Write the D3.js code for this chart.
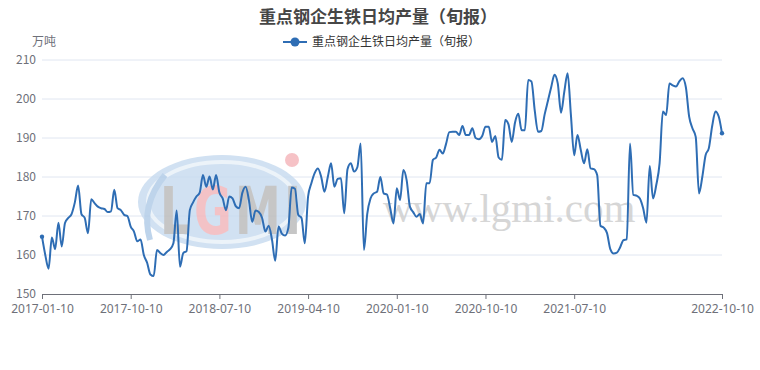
<!DOCTYPE html>
<html>
<head>
<meta charset="utf-8">
<script src="https://cdn.jsdelivr.net/npm/d3@7"></script>
<style>
  body { margin: 0; background: #fff; }
  text { font-family: "Noto Sans CJK SC", "Noto Sans", sans-serif; }
</style>
</head>
<body>
<div id="chart"></div>
<script>
// Chart text
const titleText = "重点钢企生铁日均产量（旬报）";
const unitText = "万吨";

// Tick labels shown on the x axis
const tickLabels = ["2017-01-10", "2017-10-10", "2018-07-10", "2019-04-10",
    "2020-01-10", "2020-10-10", "2021-07-10", "2022-10-10"];
const yTicks = [150, 160, 170, 180, 190, 200, 210];

// Dekad values, 2017-01-10 .. 2022-10-10
const values = [
    164.7, 160, 156.5, 164.5, 161.5, 168.3, 162.2, 168.2, 169.5, 170.5,
    173.5, 177.8, 170.5, 169.5, 165.6, 174.3, 173.3, 172.4, 172, 171.8,
    171, 171.2, 176.7, 172, 171.5, 170.3, 170, 167.3, 166, 163.5,
    164, 160, 158, 155, 154.6, 161.3, 160.5, 160, 160.8, 161.5,
    163, 171.4, 157, 160.5, 161, 171.5, 173.5, 175, 176, 180.5,
    177.5, 180.1, 176.8, 180.5, 176, 174.5, 171.5, 175, 174.5, 172.5,
    172, 176, 177.5, 174, 168.5, 171.4, 171, 169.5, 166, 167.5,
    164, 158.5, 167.3, 165.5, 165, 167, 177.3, 177, 170.3, 169.5,
    163, 175, 178.4, 181, 182.2, 180, 176.2, 180, 183.5, 177.5,
    179.5, 179.7, 170.7, 182, 183.5, 181.4, 182.5, 188.6, 161.3, 170.5,
    174.5, 175.8, 176.2, 180, 175.8, 175.5, 172, 168.1, 177.1, 174.1,
    181.8, 179.2, 172.4, 171, 169.8, 170.5, 168.1, 178.4, 178.4, 184.4,
    185, 187, 186, 188.5, 191.5, 191.6, 191.6, 190.8, 193.1, 190.8,
    190.8, 192.5, 190, 189.7, 190.5, 192.9, 192.9, 189, 190.5, 185,
    184.4, 194.6, 193.5, 189, 194, 196.2, 192, 192, 204.9, 204.5,
    197, 191.6, 191.8, 196, 199.5, 203, 206.2, 204, 196.5, 201.9,
    206.6, 196, 185.6, 190.8, 187, 183.5, 187.1, 182.2, 182, 180.5,
    167.5, 167, 165.6, 161.5, 160.4, 160.6, 162, 163.8, 164, 188.6,
    175.4, 175.2, 174.5, 172, 168.3, 182.8, 174.5, 178, 183.5, 196.8,
    195.9, 204, 203.5, 203.2, 204.5, 205.3, 203, 195.5, 192.5, 190.3,
    175.8, 180, 185.6, 187.4, 193, 196.8, 195.5, 191.2
];

// Dekad dates as categories
const categories = [];
for (let y = 2017; y <= 2022; y++) {
    for (let m = 1; m <= 12; m++) {
        for (const d of [10, 20, 30]) {
            categories.push(`${y}-${String(m).padStart(2, "0")}-${d}`);
        }
    }
}
categories.length = values.length;

const data = categories.map((c, i) => ({ date: c, value: values[i] }));

const width = 760, height = 370;
const margin = { left: 42, right: 38, top: 60, bottom: 76 };
const lineColor = "#2e6db4";

const svg = d3.select("#chart").append("svg")
    .attr("width", width)
    .attr("height", height);

const x = d3.scalePoint()
    .domain(categories)
    .range([margin.left, width - margin.right]);

const y = d3.scaleLinear()
    .domain([150, 210])
    .range([height - margin.bottom, margin.top]);

// Gridlines
svg.append("g")
    .selectAll("line")
    .data(yTicks.slice(1))
    .join("line")
    .attr("x1", margin.left)
    .attr("x2", width - margin.right)
    .attr("y1", d => y(d))
    .attr("y2", d => y(d))
    .attr("stroke", "#e0e6f1")
    .attr("stroke-width", 1);

// Watermark (logo + site)
const wm = svg.append("g").attr("opacity", 0.85);
wm.append("ellipse")
    .attr("cx", 222).attr("cy", 202).attr("rx", 84).attr("ry", 47)
    .attr("fill", "#c9dcf0");
wm.append("ellipse")
    .attr("cx", 222).attr("cy", 202).attr("rx", 74).attr("ry", 40)
    .attr("fill", "none").attr("stroke", "#e9f1f9").attr("stroke-width", 4);
wm.append("path")
    .attr("d", "M150,240 Q140,205 165,175")
    .attr("fill", "none").attr("stroke", "#b3cde8").attr("stroke-width", 6);
const logoLetters = [
    { t: "L", x: 160, c: "#bdbdbd" },
    { t: "G", x: 194, c: "#f2b8bd" },
    { t: "M", x: 235, c: "#bdbdbd" },
    { t: "I", x: 284, c: "#bdbdbd" }
];
wm.selectAll("text.logo")
    .data(logoLetters)
    .join("text")
    .attr("class", "logo")
    .attr("transform", d => `translate(${d.x},234) scale(1,1.45)`)
    .attr("fill", d => d.c)
    .style("font-family", "'DejaVu Sans', sans-serif")
    .style("font-weight", "bold")
    .style("font-size", "46px")
    .text(d => d.t);
wm.append("circle")
    .attr("cx", 292).attr("cy", 160).attr("r", 7)
    .attr("fill", "#f5b8bd");
wm.append("text")
    .attr("x", 383)
    .attr("y", 222)
    .attr("fill", "#cfcfcf")
    .style("font-family", "'Liberation Serif', 'DejaVu Serif', serif")
    .style("font-size", "41px")
    .text("www.lgmi.com");

// Y axis labels
svg.append("g")
    .selectAll("text")
    .data(yTicks)
    .join("text")
    .attr("x", margin.left - 6)
    .attr("y", d => y(d))
    .attr("dy", "0.35em")
    .attr("text-anchor", "end")
    .attr("fill", "#6e7079")
    .style("font-size", "12px")
    .text(d => d);

svg.append("text")
    .attr("x", 44)
    .attr("y", 46)
    .attr("text-anchor", "middle")
    .attr("fill", "#6e7079")
    .style("font-size", "12px")
    .text(unitText);

// X axis
const xAxis = d3.axisBottom(x)
    .tickValues(tickLabels)
    .tickSize(5)
    .tickSizeOuter(0);

const gx = svg.append("g")
    .attr("transform", `translate(0,${height - margin.bottom})`)
    .call(xAxis);
gx.select(".domain").attr("stroke", "#6e7079");
gx.selectAll(".tick line").attr("stroke", "#6e7079");
gx.selectAll(".tick text")
    .attr("fill", "#6e7079")
    .attr("dy", "0.9em")
    .style("font-size", "12px")
    .style("font-family", "'Noto Sans', sans-serif");

// Line
const line = d3.line()
    .x(d => x(d.date))
    .y(d => y(d.value))
    .curve(d3.curveMonotoneX);

svg.append("path")
    .datum(data)
    .attr("fill", "none")
    .attr("stroke", lineColor)
    .attr("stroke-width", 2)
    .attr("d", line);

// Symbols at the two ends
const symbolIdx = [0, values.length - 1];
svg.append("g")
    .selectAll("circle")
    .data(symbolIdx.map(i => data[i]))
    .join("circle")
    .attr("cx", d => x(d.date))
    .attr("cy", d => y(d.value))
    .attr("r", 2.2)
    .attr("fill", lineColor);

// Title
svg.append("text")
    .attr("x", 378)
    .attr("y", 23)
    .attr("text-anchor", "middle")
    .attr("fill", "#464646")
    .style("font-size", "17px")
    .style("font-weight", "bold")
    .text(titleText);

// Legend
const legend = svg.append("g").attr("transform", "translate(283,42)");
legend.append("line")
    .attr("x1", 0).attr("x2", 24)
    .attr("stroke", lineColor).attr("stroke-width", 2);
legend.append("circle")
    .attr("cx", 12).attr("r", 4.5)
    .attr("fill", lineColor);
legend.append("text")
    .attr("x", 29)
    .attr("dy", "0.35em")
    .attr("fill", "#333")
    .style("font-size", "12px")
    .text(titleText);
</script>
</body>
</html>
